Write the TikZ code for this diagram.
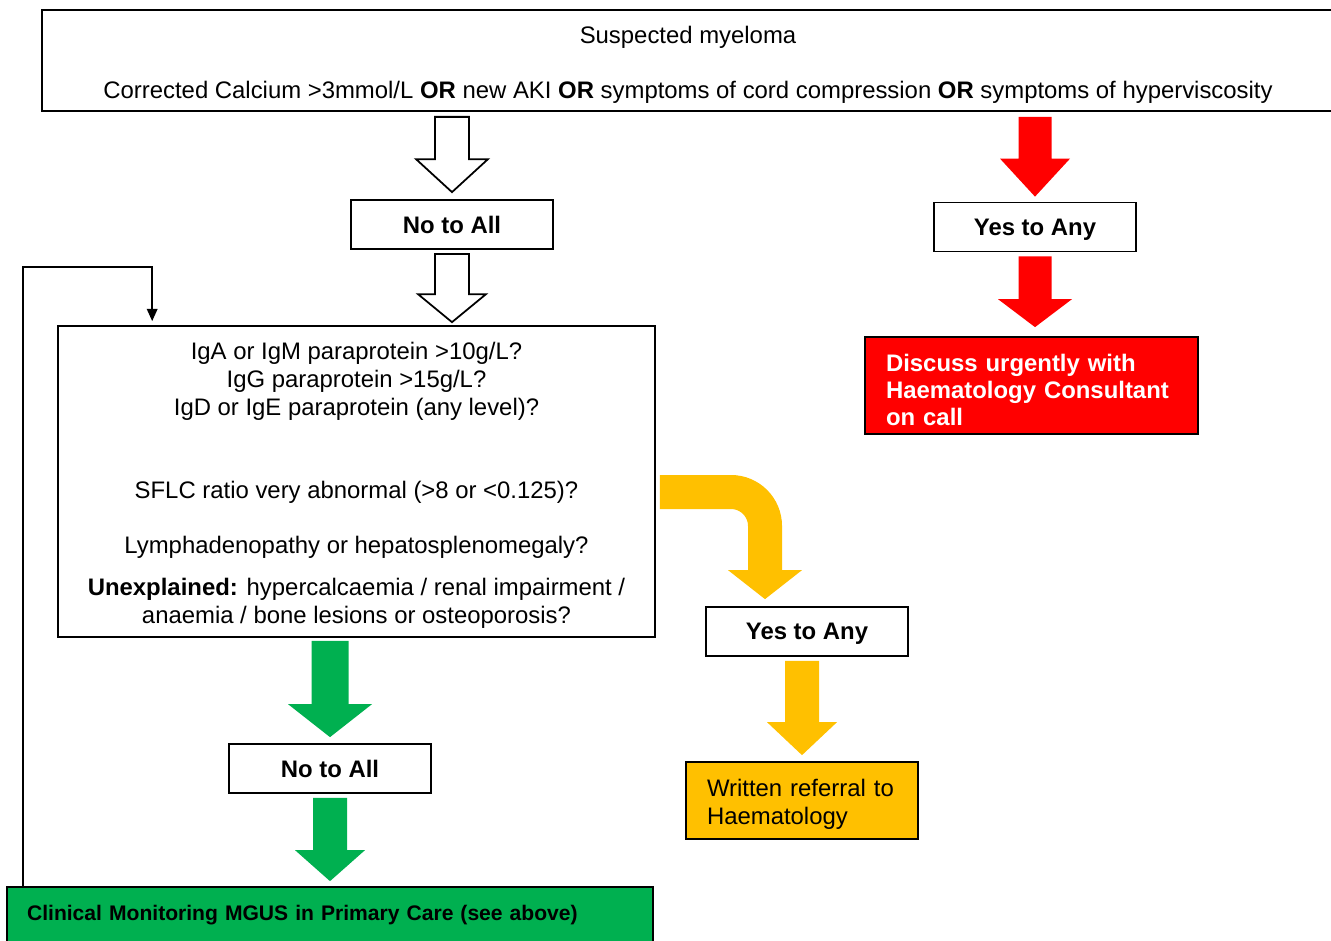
\documentclass[tikz,border=0pt]{standalone}
\usepackage{fontspec}
\setmainfont{Liberation Sans}
\usepackage{tikz}
\usetikzlibrary{arrows.meta}
\usetikzlibrary{calc}

\definecolor{urgentred}{HTML}{FF0000}
\definecolor{referyellow}{HTML}{FFC000}
\definecolor{monitorgreen}{HTML}{00B050}

% block arrow: [style]{start}{tip}{shaft half width}{head half width}{head length}
\newcommand{\blockarrow}[6][]{%
  \path[#1] ($(#2)+(-#4,0)$) -- ($(#3)+(-#4,-#6)$) -- ($(#3)+(-#5,-#6)$) -- (#3)
    -- ($(#3)+(#5,-#6)$) -- ($(#3)+(#4,-#6)$) -- ($(#2)+(#4,0)$) -- cycle;}
% pushes a block of lines a little down in its box
\newcommand{\toppad}{\rule{0pt}{14.5pt}}

\begin{document}
\begin{tikzpicture}[x=0.02cm, y=-0.02cm,
  textbox/.style={draw, line width=1pt, align=center, inner sep=0pt,
    font=\fontsize{13.6}{15.9}\selectfont},
  answer/.style={textbox, font=\fontsize{13.6}{15.9}\selectfont\bfseries,
    minimum width=4.04cm, minimum height=0.98cm, text depth=0pt},
  outcome/.style={textbox, align=left, inner xsep=0.42cm},
  whitearrow/.style={draw, line width=1pt, fill=white},
  redarrow/.style={fill=urgentred},
  yellowarrow/.style={fill=referyellow},
  greenarrow/.style={fill=monitorgreen},
  yellowband/.style={draw=referyellow, line width=0.68cm, rounded corners=0.68cm},
  loopline/.style={draw, line width=1pt, -{Triangle[length=7pt, width=6pt]}}]

\useasboundingbox (0,0) rectangle (1331,940);

% Define nodes
\node (top) [textbox, minimum width=25.84cm, minimum height=2.02cm] at (688,60.5)
  {\toppad Suspected myeloma\\[15.3pt]
   Corrected Calcium >3mmol/L \textbf{OR} new AKI \textbf{OR} symptoms of cord compression \textbf{OR} symptoms of hyperviscosity};
\node (noall1) [answer] at (452,224.5) {No to All};
\node (yes1) [answer] at (1035,227) {Yes to Any};
\node (urgent) [outcome, fill=urgentred, text=white, text width=5.82cm, minimum height=1.94cm,
  font=\fontsize{13.6}{15.3}\selectfont\bfseries] at (1031.5,385.5)
  {\toppad Discuss urgently with\\Haematology Consultant\\on call};
\node (main) [textbox, minimum width=11.94cm, minimum height=6.22cm] at (356.5,481.5)
  {\toppad IgA or IgM paraprotein >10g/L?\\
   IgG paraprotein >15g/L?\\
   IgD or IgE paraprotein (any level)?\\[31.2pt]
   SFLC ratio very abnormal (>8 or <0.125)?\\[15.3pt]
   Lymphadenopathy or hepatosplenomegaly?\\[8.5pt]
   \textbf{Unexplained:} hypercalcaemia / renal impairment /\\
   anaemia / bone lesions or osteoporosis?};
\node (yes2) [answer] at (807,631.5) {Yes to Any};
\node (referral) [outcome, fill=referyellow, text width=3.8cm, minimum height=1.54cm] at (802,800.5)
  {\toppad Written referral to\\Haematology};
\node (noall2) [answer] at (330,768.5) {No to All};
\node (monitor) [outcome, fill=monitorgreen, inner xsep=0.4cm, text width=12.12cm, minimum height=1.12cm,
  font=\fontsize{12}{14}\selectfont\bfseries] at (330,915)
  {Clinical Monitoring MGUS in Primary Care (see above)};

% Arrow ends
\coordinate (w1s) at ($(noall1.north |- top.south)+(0,5)$);
\coordinate (w1t) at ($(noall1.north)+(0,-7)$);
\coordinate (w2s) at ($(noall1.south)+(0,4)$);
\coordinate (w2t) at ($(noall1.south |- main.north)+(0,-3)$);
\coordinate (r1s) at ($(yes1.north |- top.south)+(0,5)$);
\coordinate (r1t) at ($(yes1.north)+(0,-5)$);
\coordinate (r2s) at ($(yes1.south)+(0,4)$);
\coordinate (r2t) at ($(yes1.south |- urgent.north)+(0,-9)$);
\coordinate (g1s) at ($(noall2.north |- main.south)+(0,3)$);
\coordinate (g1t) at ($(noall2.north)+(0,-6)$);
\coordinate (g2s) at ($(noall2.south)+(0,4)$);
\coordinate (g2t) at ($(noall2.south |- monitor.north)+(0,-5)$);
\coordinate (y1h) at ($(yes2.north)+(-42,-36)$);
\coordinate (y1t) at ($(yes2.north)+(-42,-7)$);
\coordinate (y2s) at ($(referral.north |- yes2.south)+(0,4)$);
\coordinate (y2t) at ($(referral.north)+(0,-6)$);

% Draw block arrows
\blockarrow[whitearrow]{w1s}{w1t}{17}{36}{33}
\blockarrow[whitearrow]{w2s}{w2t}{17}{34}{28}
\blockarrow[redarrow]{r1s}{r1t}{16.5}{35}{38}
\blockarrow[redarrow]{r2s}{r2t}{16.5}{37}{28}
\blockarrow[greenarrow]{g1s}{g1t}{18.5}{42}{33}
\blockarrow[greenarrow]{g2s}{g2t}{17}{35}{31}
\draw[yellowband] ($(main.east)+(4,10.5)$) -| (y1h);
\blockarrow[yellowarrow]{y1h}{y1t}{18}{37}{29}
\blockarrow[yellowarrow]{y2s}{y2t}{17}{35}{33}

% Draw loop back to the questions
\draw[loopline] ($(monitor.north west)+(17,0)$) |- ($(main.north west)+(95,-58)$)
  -- ($(main.north west)+(95,-4)$);

\end{tikzpicture}
\end{document}
